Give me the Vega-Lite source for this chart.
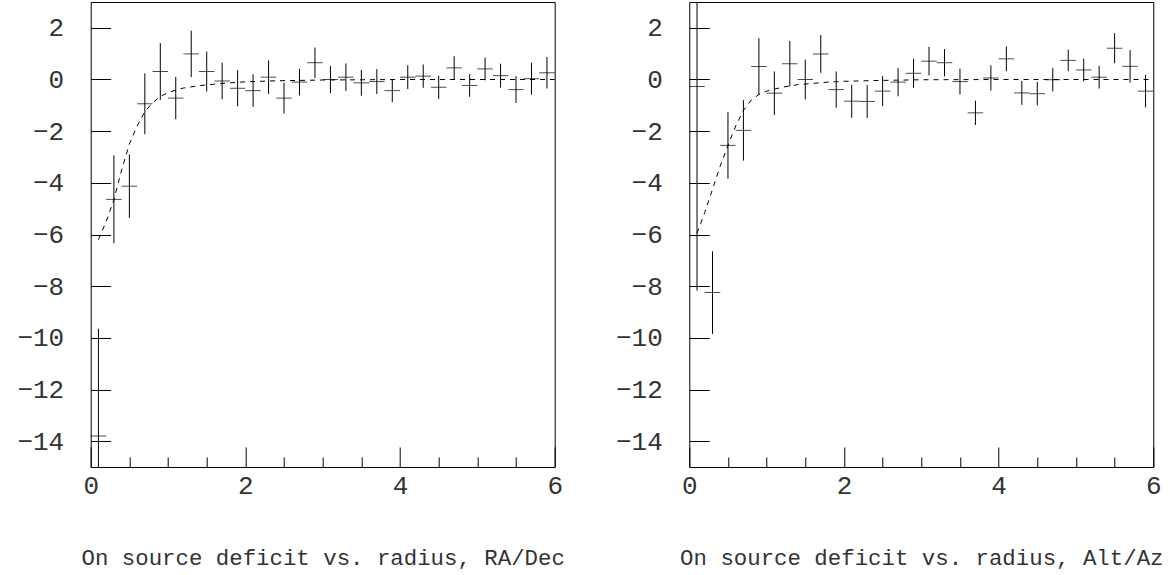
{
  "$schema": "https://vega.github.io/schema/vega-lite/v6.json",
  "padding": {"left": 15.7, "top": 1, "right": 5, "bottom": 6},
  "spacing": 48.6,
  "datasets": {
    "radec": [
      {"r": 0.1, "v": -13.8, "e": 4.15},
      {"r": 0.3, "v": -4.64, "e": 1.7},
      {"r": 0.5, "v": -4.13, "e": 1.23},
      {"r": 0.7, "v": -0.94, "e": 1.18},
      {"r": 0.9, "v": 0.31, "e": 1.1},
      {"r": 1.1, "v": -0.72, "e": 0.82},
      {"r": 1.3, "v": 0.99, "e": 0.9},
      {"r": 1.5, "v": 0.31, "e": 0.77},
      {"r": 1.7, "v": -0.06, "e": 0.71},
      {"r": 1.9, "v": -0.34, "e": 0.7},
      {"r": 2.1, "v": -0.43, "e": 0.63},
      {"r": 2.3, "v": 0.09, "e": 0.65},
      {"r": 2.5, "v": -0.72, "e": 0.6},
      {"r": 2.7, "v": -0.1, "e": 0.52},
      {"r": 2.9, "v": 0.65, "e": 0.59},
      {"r": 3.1, "v": 0.0, "e": 0.53},
      {"r": 3.3, "v": 0.09, "e": 0.53},
      {"r": 3.5, "v": -0.13, "e": 0.5},
      {"r": 3.7, "v": -0.08, "e": 0.48},
      {"r": 3.9, "v": -0.43, "e": 0.45},
      {"r": 4.1, "v": 0.09, "e": 0.46},
      {"r": 4.3, "v": 0.13, "e": 0.45},
      {"r": 4.5, "v": -0.3, "e": 0.45},
      {"r": 4.7, "v": 0.45, "e": 0.45},
      {"r": 4.9, "v": -0.23, "e": 0.44},
      {"r": 5.1, "v": 0.41, "e": 0.44},
      {"r": 5.3, "v": 0.15, "e": 0.46},
      {"r": 5.5, "v": -0.39, "e": 0.52},
      {"r": 5.7, "v": 0.03, "e": 0.62},
      {"r": 5.9, "v": 0.26, "e": 0.61}
    ],
    "altaz": [
      {"r": 0.1, "v": -0.27, "e": 7.9},
      {"r": 0.3, "v": -8.25, "e": 1.6},
      {"r": 0.5, "v": -2.55, "e": 1.29},
      {"r": 0.7, "v": -1.97, "e": 1.17},
      {"r": 0.9, "v": 0.5, "e": 1.1},
      {"r": 1.1, "v": -0.53, "e": 0.84},
      {"r": 1.3, "v": 0.61, "e": 0.88},
      {"r": 1.5, "v": 0.0, "e": 0.77},
      {"r": 1.7, "v": 0.99, "e": 0.73},
      {"r": 1.9, "v": -0.39, "e": 0.7},
      {"r": 2.1, "v": -0.84, "e": 0.64},
      {"r": 2.3, "v": -0.85, "e": 0.64},
      {"r": 2.5, "v": -0.45, "e": 0.58},
      {"r": 2.7, "v": -0.1, "e": 0.55},
      {"r": 2.9, "v": 0.24, "e": 0.56},
      {"r": 3.1, "v": 0.71, "e": 0.55},
      {"r": 3.3, "v": 0.65, "e": 0.53},
      {"r": 3.5, "v": -0.08, "e": 0.5},
      {"r": 3.7, "v": -1.29, "e": 0.47},
      {"r": 3.9, "v": 0.06, "e": 0.49},
      {"r": 4.1, "v": 0.8, "e": 0.48},
      {"r": 4.3, "v": -0.52, "e": 0.46},
      {"r": 4.5, "v": -0.55, "e": 0.45},
      {"r": 4.7, "v": -0.01, "e": 0.45},
      {"r": 4.9, "v": 0.74, "e": 0.42},
      {"r": 5.1, "v": 0.37, "e": 0.44},
      {"r": 5.3, "v": 0.09, "e": 0.44},
      {"r": 5.5, "v": 1.21, "e": 0.58},
      {"r": 5.7, "v": 0.51, "e": 0.63},
      {"r": 5.9, "v": -0.45, "e": 0.63}
    ],
    "fitRadec": [
      {"r": 0.1, "v": -6.2}, {"r": 0.2, "v": -5.5}, {"r": 0.3, "v": -4.65},
      {"r": 0.4, "v": -3.5}, {"r": 0.5, "v": -2.5}, {"r": 0.6, "v": -1.8},
      {"r": 0.7, "v": -1.25}, {"r": 0.8, "v": -0.9}, {"r": 0.9, "v": -0.66},
      {"r": 1.0, "v": -0.5}, {"r": 1.2, "v": -0.33}, {"r": 1.4, "v": -0.24},
      {"r": 1.6, "v": -0.18}, {"r": 1.8, "v": -0.13}, {"r": 2.0, "v": -0.09},
      {"r": 2.4, "v": -0.05}, {"r": 3.0, "v": -0.02}, {"r": 4.0, "v": 0.0},
      {"r": 6.0, "v": 0.0}
    ],
    "fitAltaz": [
      {"r": 0.1, "v": -5.95}, {"r": 0.2, "v": -5.15}, {"r": 0.3, "v": -4.25},
      {"r": 0.4, "v": -3.35}, {"r": 0.5, "v": -2.55}, {"r": 0.6, "v": -1.8},
      {"r": 0.7, "v": -1.2}, {"r": 0.8, "v": -0.8}, {"r": 0.9, "v": -0.58},
      {"r": 1.0, "v": -0.45}, {"r": 1.2, "v": -0.3}, {"r": 1.4, "v": -0.2},
      {"r": 1.6, "v": -0.15}, {"r": 1.8, "v": -0.1}, {"r": 2.0, "v": -0.07},
      {"r": 2.4, "v": -0.04}, {"r": 3.0, "v": -0.01}, {"r": 4.0, "v": 0.0},
      {"r": 6.0, "v": 0.0}
    ]
  },
  "hconcat": [
    {
      "width": 464,
      "height": 465,
      "encoding": {
        "x": {"field": "r", "type": "quantitative", "scale": {"domain": [0, 6], "nice": false, "zero": false},
              "axis": {"title": "On source deficit vs. radius, RA/Dec"}},
        "y": {"field": "v", "type": "quantitative", "scale": {"domain": [-15, 3], "nice": false, "zero": false, "clamp": true},
              "axis": {"title": null}}
      },
      "layer": [
        {"data": {"name": "fitRadec"}, "mark": {"type": "line", "color": "#000", "strokeWidth": 1, "strokeDash": [5, 5]}},
        {"data": {"name": "radec"}, "mark": {"type": "errorbar", "color": "#000", "thickness": 1}, "encoding": {"yError": {"field": "e"}}},
        {"data": {"name": "radec"}, "mark": {"type": "tick", "orient": "horizontal", "color": "#000", "size": 15.47, "thickness": 1}}
      ]
    },
    {
      "width": 464,
      "height": 465,
      "encoding": {
        "x": {"field": "r", "type": "quantitative", "scale": {"domain": [0, 6], "nice": false, "zero": false},
              "axis": {"title": "On source deficit vs. radius, Alt/Az"}},
        "y": {"field": "v", "type": "quantitative", "scale": {"domain": [-15, 3], "nice": false, "zero": false, "clamp": true},
              "axis": {"title": null}}
      },
      "layer": [
        {"data": {"name": "fitAltaz"}, "mark": {"type": "line", "color": "#000", "strokeWidth": 1, "strokeDash": [5, 5]}},
        {"data": {"name": "altaz"}, "mark": {"type": "errorbar", "color": "#000", "thickness": 1}, "encoding": {"yError": {"field": "e"}}},
        {"data": {"name": "altaz"}, "mark": {"type": "tick", "orient": "horizontal", "color": "#000", "size": 15.47, "thickness": 1}}
      ]
    }
  ],
  "config": {
    "view": {"stroke": "#000", "strokeWidth": 1},
    "axis": {
      "domain": false,
      "grid": false,
      "tickColor": "#000",
      "tickWidth": 1,
      "labelFont": "Liberation Mono",
      "labelFontSize": 26,
      "labelColor": "#333",
      "labelOverlap": false,
      "labelFlush": false,
      "labelExpr": "datum.value % 2 === 0 ? format(datum.value, 'd') : ''",
      "tickSize": {"condition": {"test": "datum.value % 2 === 0", "value": -20}, "value": -10},
      "titleFont": "Liberation Mono",
      "titleFontSize": 22.4,
      "titleFontWeight": "normal",
      "titleColor": "#333",
      "titleLimit": 700
    },
    "axisX": {
      "values": [0, 0.5, 1, 1.5, 2, 2.5, 3, 3.5, 4, 4.5, 5, 5.5, 6],
      "labelPadding": 26,
      "titlePadding": 38
    },
    "axisY": {
      "values": [-15, -14.5, -14, -13.5, -13, -12.5, -12, -11.5, -11, -10.5, -10, -9.5, -9, -8.5, -8, -7.5, -7, -6.5, -6, -5.5, -5, -4.5, -4, -3.5, -3, -2.5, -2, -1.5, -1, -0.5, 0, 0.5, 1, 1.5, 2, 2.5, 3],
      "labelPadding": 47
    }
  }
}
